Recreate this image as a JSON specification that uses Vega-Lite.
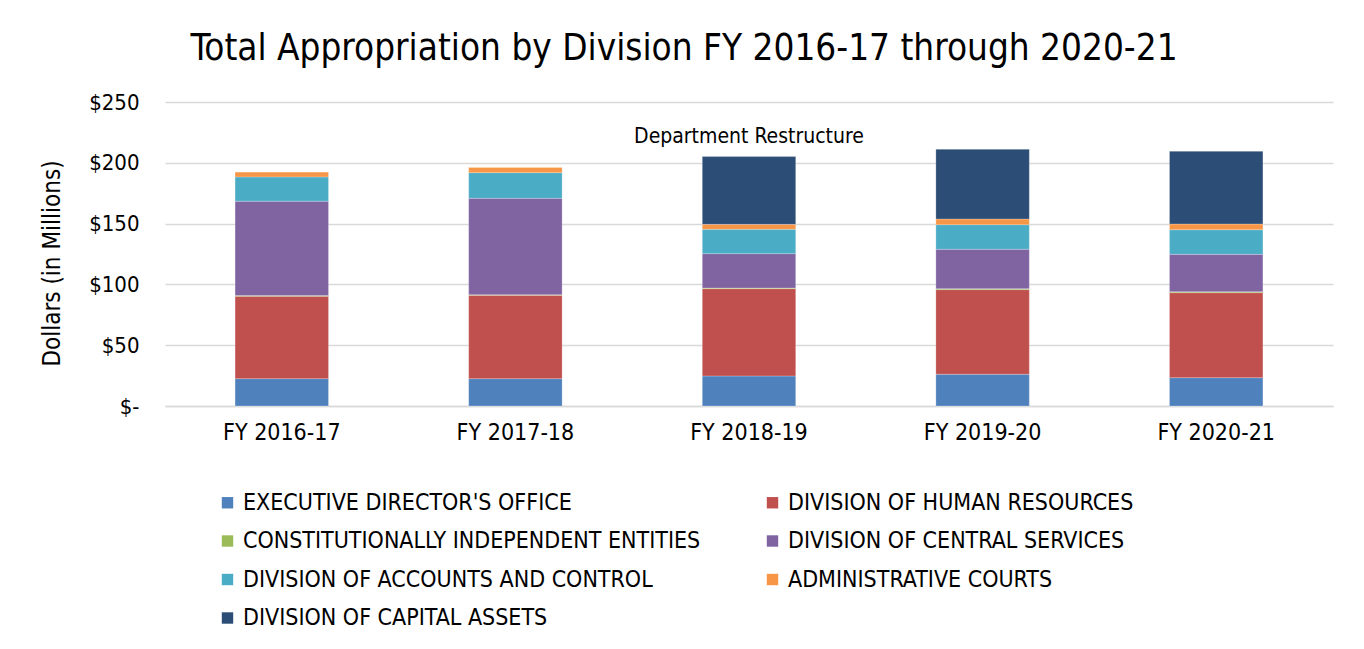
{
  "$schema": "https://vega.github.io/schema/vega-lite/v6.json",
  "autosize": {"type": "none"},
  "width": 1168,
  "height": 304,
  "padding": {"left": 165, "top": 102, "right": 31, "bottom": 243},
  "background": "white",
  "title": {
    "text": "Total Appropriation by Division FY 2016-17 through 2020-21",
    "font": "DejaVu Sans Condensed, DejaVu Sans",
    "fontSize": 36.6,
    "fontWeight": "normal",
    "color": "#000000",
    "anchor": "middle",
    "dx": -65,
    "offset": 23
  },
  "config": {
    "view": {"stroke": null},
    "font": "DejaVu Sans Condensed, DejaVu Sans",
    "axis": {
      "labelFont": "DejaVu Sans Condensed, DejaVu Sans",
      "titleFont": "DejaVu Sans Condensed, DejaVu Sans",
      "labelColor": "#000000",
      "titleColor": "#000000"
    }
  },
  "layer": [
    {
      "data": {
        "values": [
          {"year": "FY 2016-17", "division": "EXECUTIVE DIRECTOR'S OFFICE", "ord": 1, "value": 22.5},
          {"year": "FY 2016-17", "division": "DIVISION OF HUMAN RESOURCES", "ord": 2, "value": 67.7},
          {"year": "FY 2016-17", "division": "CONSTITUTIONALLY INDEPENDENT ENTITIES", "ord": 3, "value": 0.6},
          {"year": "FY 2016-17", "division": "DIVISION OF CENTRAL SERVICES", "ord": 4, "value": 77.6},
          {"year": "FY 2016-17", "division": "DIVISION OF ACCOUNTS AND CONTROL", "ord": 5, "value": 20.0},
          {"year": "FY 2016-17", "division": "ADMINISTRATIVE COURTS", "ord": 6, "value": 4.1},
          {"year": "FY 2016-17", "division": "DIVISION OF CAPITAL ASSETS", "ord": 7, "value": 0},
          {"year": "FY 2017-18", "division": "EXECUTIVE DIRECTOR'S OFFICE", "ord": 1, "value": 22.5},
          {"year": "FY 2017-18", "division": "DIVISION OF HUMAN RESOURCES", "ord": 2, "value": 68.5},
          {"year": "FY 2017-18", "division": "CONSTITUTIONALLY INDEPENDENT ENTITIES", "ord": 3, "value": 0.5},
          {"year": "FY 2017-18", "division": "DIVISION OF CENTRAL SERVICES", "ord": 4, "value": 79.3},
          {"year": "FY 2017-18", "division": "DIVISION OF ACCOUNTS AND CONTROL", "ord": 5, "value": 21.1},
          {"year": "FY 2017-18", "division": "ADMINISTRATIVE COURTS", "ord": 6, "value": 4.4},
          {"year": "FY 2017-18", "division": "DIVISION OF CAPITAL ASSETS", "ord": 7, "value": 0},
          {"year": "FY 2018-19", "division": "EXECUTIVE DIRECTOR'S OFFICE", "ord": 1, "value": 24.7},
          {"year": "FY 2018-19", "division": "DIVISION OF HUMAN RESOURCES", "ord": 2, "value": 71.8},
          {"year": "FY 2018-19", "division": "CONSTITUTIONALLY INDEPENDENT ENTITIES", "ord": 3, "value": 0.5},
          {"year": "FY 2018-19", "division": "DIVISION OF CENTRAL SERVICES", "ord": 4, "value": 28.3},
          {"year": "FY 2018-19", "division": "DIVISION OF ACCOUNTS AND CONTROL", "ord": 5, "value": 20.0},
          {"year": "FY 2018-19", "division": "ADMINISTRATIVE COURTS", "ord": 6, "value": 4.1},
          {"year": "FY 2018-19", "division": "DIVISION OF CAPITAL ASSETS", "ord": 7, "value": 55.7},
          {"year": "FY 2019-20", "division": "EXECUTIVE DIRECTOR'S OFFICE", "ord": 1, "value": 26.1},
          {"year": "FY 2019-20", "division": "DIVISION OF HUMAN RESOURCES", "ord": 2, "value": 69.6},
          {"year": "FY 2019-20", "division": "CONSTITUTIONALLY INDEPENDENT ENTITIES", "ord": 3, "value": 0.8},
          {"year": "FY 2019-20", "division": "DIVISION OF CENTRAL SERVICES", "ord": 4, "value": 32.4},
          {"year": "FY 2019-20", "division": "DIVISION OF ACCOUNTS AND CONTROL", "ord": 5, "value": 20.2},
          {"year": "FY 2019-20", "division": "ADMINISTRATIVE COURTS", "ord": 6, "value": 4.7},
          {"year": "FY 2019-20", "division": "DIVISION OF CAPITAL ASSETS", "ord": 7, "value": 57.3},
          {"year": "FY 2020-21", "division": "EXECUTIVE DIRECTOR'S OFFICE", "ord": 1, "value": 23.3},
          {"year": "FY 2020-21", "division": "DIVISION OF HUMAN RESOURCES", "ord": 2, "value": 69.9},
          {"year": "FY 2020-21", "division": "CONSTITUTIONALLY INDEPENDENT ENTITIES", "ord": 3, "value": 0.8},
          {"year": "FY 2020-21", "division": "DIVISION OF CENTRAL SERVICES", "ord": 4, "value": 30.7},
          {"year": "FY 2020-21", "division": "DIVISION OF ACCOUNTS AND CONTROL", "ord": 5, "value": 20.3},
          {"year": "FY 2020-21", "division": "ADMINISTRATIVE COURTS", "ord": 6, "value": 4.7},
          {"year": "FY 2020-21", "division": "DIVISION OF CAPITAL ASSETS", "ord": 7, "value": 59.7}
        ]
      },
      "mark": {"type": "bar", "stroke": "#ffffff", "strokeWidth": 0.4, "strokeOpacity": 0.6},
      "encoding": {
        "x": {
          "field": "year",
          "type": "nominal",
          "sort": null,
          "scale": {"paddingInner": 0.6, "paddingOuter": 0.3},
          "axis": {
            "title": null,
            "labelAngle": 0,
            "labelFontSize": 23,
            "labelPadding": 15,
            "ticks": false,
            "domain": true,
            "domainColor": "#d9d9d9",
            "domainWidth": 1.5
          }
        },
        "y": {
          "field": "value",
          "type": "quantitative",
          "aggregate": "sum",
          "stack": "zero",
          "scale": {"domain": [0, 250], "nice": false},
          "axis": {
            "title": "Dollars (in Millions)",
            "titleFontSize": 24,
            "titleFontWeight": "normal",
            "titlePadding": 24,
            "titleY": 161,
            "values": [0, 50, 100, 150, 200, 250],
            "labelExpr": "datum.value == 0 ? '$-' : '$' + datum.value",
            "labelFontSize": 22,
            "labelPadding": 26,
            "ticks": false,
            "domain": false,
            "grid": true,
            "gridColor": "#d9d9d9",
            "gridWidth": 1.5
          }
        },
        "order": {"field": "ord", "type": "quantitative", "sort": "ascending"},
        "color": {
          "field": "division",
          "type": "nominal",
          "scale": {
            "domain": [
              "EXECUTIVE DIRECTOR'S OFFICE",
              "CONSTITUTIONALLY INDEPENDENT ENTITIES",
              "DIVISION OF ACCOUNTS AND CONTROL",
              "DIVISION OF CAPITAL ASSETS",
              "DIVISION OF HUMAN RESOURCES",
              "DIVISION OF CENTRAL SERVICES",
              "ADMINISTRATIVE COURTS"
            ],
            "range": ["#4F81BD", "#9BBB59", "#4BACC6", "#2C4D75", "#C0504D", "#8064A2", "#F79646"]
          },
          "legend": {
            "title": null,
            "orient": "none",
            "legendX": 51,
            "legendY": 389,
            "columns": 2,
            "columnPadding": 60,
            "rowPadding": 14.5,
            "symbolType": "square",
            "symbolSize": 130,
            "symbolStrokeWidth": 0,
            "symbolOpacity": 1,
            "labelFontSize": 23,
            "labelOffset": 4,
            "labelLimit": 0,
            "labelColor": "#000000",
            "labelFont": "DejaVu Sans Condensed, DejaVu Sans"
          }
        }
      }
    },
    {
      "data": {"values": [{"year": "FY 2018-19", "value": 221, "label": "Department Restructure"}]},
      "mark": {"type": "text", "fontSize": 21, "color": "#000000", "baseline": "middle", "align": "center"},
      "encoding": {
        "x": {"field": "year", "type": "nominal", "sort": null},
        "y": {"field": "value", "type": "quantitative"},
        "text": {"field": "label"}
      }
    }
  ]
}
